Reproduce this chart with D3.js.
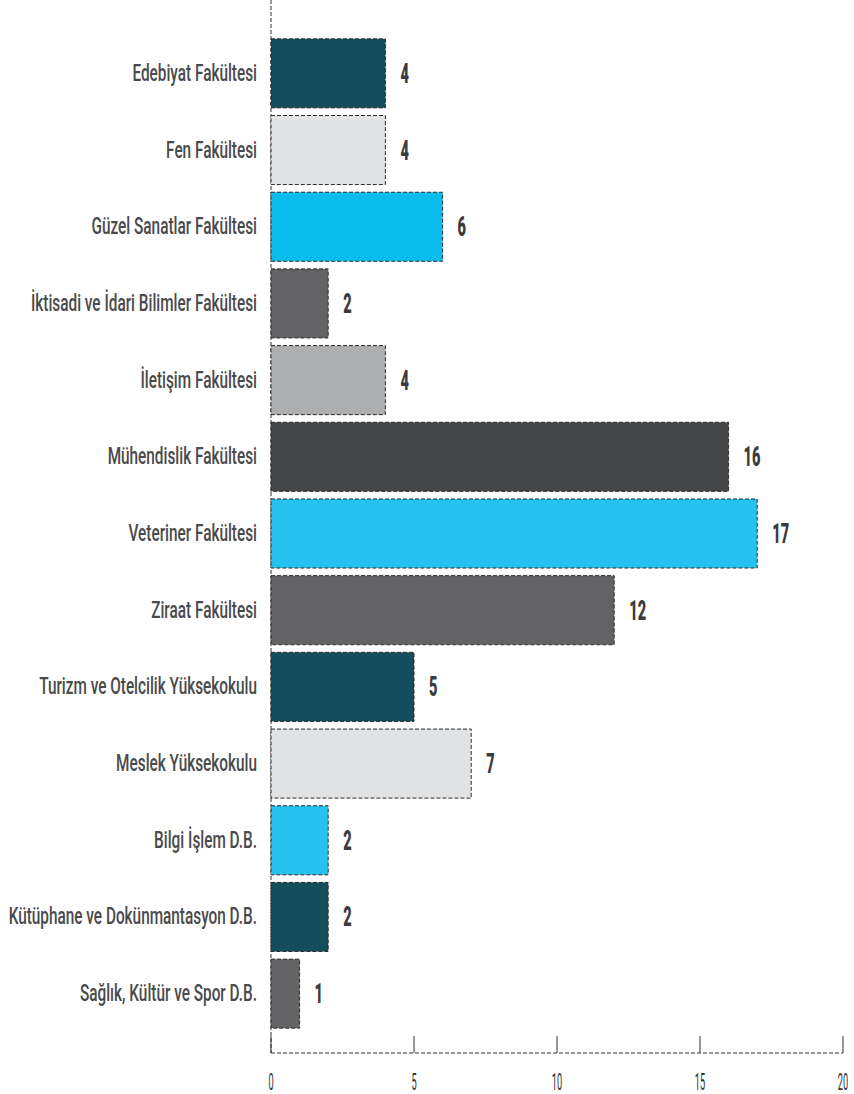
<!DOCTYPE html>
<html>
<head>
<meta charset="utf-8">
<script src="https://cdn.jsdelivr.net/npm/d3@7"></script>
<style>
  html, body { margin: 0; padding: 0; background: #fff; }
  svg { display: block; }
</style>
</head>
<body>
<svg id="chart" width="854" height="1094"></svg>
<script>
const categories = [
  "Edebiyat Fakültesi",
  "Fen Fakültesi",
  "Güzel Sanatlar Fakültesi",
  "İktisadi ve İdari Bilimler Fakültesi",
  "İletişim Fakültesi",
  "Mühendislik Fakültesi",
  "Veteriner Fakültesi",
  "Ziraat Fakültesi",
  "Turizm ve Otelcilik Yüksekokulu ",
  "Meslek Yüksekokulu ",
  "Bilgi İşlem D.B.",
  "Kütüphane ve Dokünmantasyon D.B.",
  "Sağlık, Kültür ve Spor D.B."
];
const values = [4, 4, 6, 2, 4, 16, 17, 12, 5, 7, 2, 2, 1];
const barColors = [
  "#154d5c", "#e1e2e4", "#0bbcef", "#636365", "#adaeb0", "#454648",
  "#26c3f0", "#636365", "#154d5c", "#e1e2e4", "#26c3f0", "#154d5c", "#636365"
];
const tickValues = [0, 5, 10, 15, 20];

const svg = d3.select("#chart");

const x = d3.scaleLinear().domain([0, 20]).range([271, 843]);
const y = d3.scaleBand().domain(categories).range([35, 1032])
  .paddingInner(0.1).paddingOuter(0.05);

const axisY = 1053;

// vertical dashed axis line
svg.append("line")
  .attr("x1", x(0)).attr("x2", x(0))
  .attr("y1", 0).attr("y2", axisY)
  .attr("stroke", "#333").attr("stroke-width", 1)
  .attr("stroke-dasharray", "4,2");

// bars
svg.append("g").selectAll("rect")
  .data(categories)
  .join("rect")
  .attr("x", x(0))
  .attr("y", d => y(d))
  .attr("width", (d, i) => x(values[i]) - x(0))
  .attr("height", y.bandwidth())
  .attr("fill", (d, i) => barColors[i])
  .attr("stroke", "#2a2a2a")
  .attr("stroke-width", 1)
  .attr("stroke-dasharray", "4,2");

// category labels (condensed)
const catG = svg.append("g").selectAll("g")
  .data(categories)
  .join("g")
  .attr("transform", d => `translate(257, ${y(d) + y.bandwidth() / 2 + 7.5}) scale(0.64,1)`);
catG.append("text")
  .attr("text-anchor", "end")
  .attr("font-family", "Roboto, 'Noto Sans', sans-serif")
  .attr("font-weight", 500)
  .attr("font-size", 24)
  .attr("fill", "#4a4a4c")
  .text(d => d);

// value labels
const valG = svg.append("g").selectAll("g")
  .data(categories)
  .join("g")
  .attr("transform", (d, i) => `translate(${x(values[i]) + 15}, ${y(d) + y.bandwidth() / 2 + 9.5}) scale(0.54,1)`);
valG.append("text")
  .attr("text-anchor", "start")
  .attr("font-family", "Roboto, 'Noto Sans', sans-serif")
  .attr("font-weight", 900)
  .attr("font-size", 27)
  .attr("fill", "#3b3b3d")
  .text((d, i) => values[i]);

// bottom axis
const axisG = svg.append("g");
axisG.append("line")
  .attr("x1", x(0)).attr("x2", x(20))
  .attr("y1", axisY).attr("y2", axisY)
  .attr("stroke", "#333").attr("stroke-width", 1)
  .attr("stroke-dasharray", "4,2");
axisG.selectAll("line.tick")
  .data(tickValues)
  .join("line")
  .attr("class", "tick")
  .attr("x1", d => x(d)).attr("x2", d => x(d))
  .attr("y1", axisY - 17).attr("y2", axisY)
  .attr("stroke", "#333").attr("stroke-width", 1);
axisG.selectAll("g.tl")
  .data(tickValues)
  .join("g")
  .attr("class", "tl")
  .attr("transform", d => `translate(${x(d)}, 1090) scale(0.4,1)`)
  .append("text")
  .attr("text-anchor", "middle")
  .attr("font-family", "Roboto, 'Noto Sans', sans-serif")
  .attr("font-weight", 400)
  .attr("font-size", 23)
  .attr("fill", "#333")
  .text(d => d);
</script>
</body>
</html>
